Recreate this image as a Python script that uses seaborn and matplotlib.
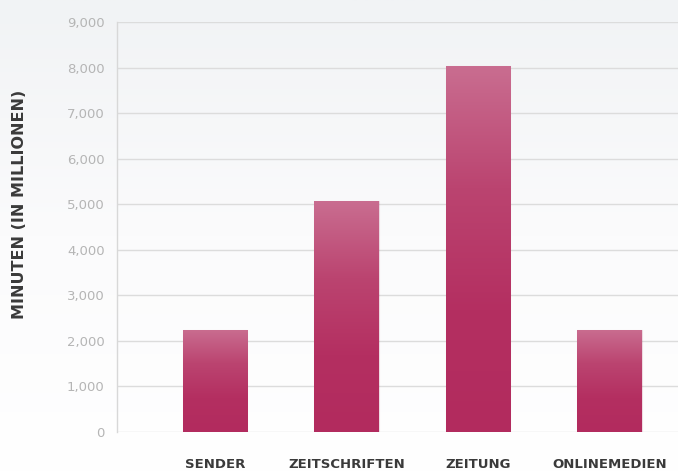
import matplotlib
matplotlib.use("Agg")
import matplotlib.pyplot as plt
import seaborn as sns
import pandas as pd
import numpy as np
from matplotlib.colors import LinearSegmentedColormap
from matplotlib.ticker import FuncFormatter

categories = ["SENDER", "ZEITSCHRIFTEN", "ZEITUNG", "ONLINEMEDIEN"]
minutes = [2250, 5060, 8030, 2250]
y_ticks = [0, 1000, 2000, 3000, 4000, 5000, 6000, 7000, 8000, 9000]

df = pd.DataFrame({"medium": categories, "minuten": minutes})

sns.set_theme(style="white")
plt.rcParams["font.family"] = ["DejaVu Sans"]

fig = plt.figure(figsize=(6.78, 4.72), dpi=100)

# soft grey-to-white page background
bg = fig.add_axes([0, 0, 1, 1], zorder=-10)
grad = np.linspace(0, 1, 256).reshape(-1, 1)
bg_cmap = LinearSegmentedColormap.from_list("bg", ["#f1f3f5", "#fbfbfc", "#ffffff"])
bg.imshow(grad, aspect="auto", cmap=bg_cmap, extent=[0, 1, 0, 1], origin="upper")
bg.axis("off")

ax = fig.add_axes([117 / 678, 40 / 472, 1 - 117 / 678, (432 - 22) / 472])
ax.set_facecolor("none")

sns.barplot(data=df, x="medium", y="minuten", color="#b42f61", width=0.49,
            ax=ax, zorder=3, linewidth=0)

# vertical gradient inside each bar
bar_cmap = LinearSegmentedColormap.from_list("bar", ["#c96d90", "#bb4470", "#b42f61", "#b22b5e"])
for p in ax.patches:
    x0, y0 = p.get_x(), p.get_y()
    w, h = p.get_width(), p.get_height()
    p.set_facecolor("none")
    im = ax.imshow(grad, aspect="auto", cmap=bar_cmap, origin="upper",
                   extent=[x0, x0 + w, y0, y0 + h], zorder=4)
    im.set_clip_path(p)
    p.set_edgecolor((0.6, 0.1, 0.3, 0.15))
    p.set_linewidth(0.8)

ax.set_xlim(-0.745, 3.52)
ax.set_ylim(0, 9000)
ax.set_yticks(y_ticks)
ax.yaxis.set_major_formatter(FuncFormatter(lambda v, _: f"{int(v):,}"))
ax.grid(axis="y", color="#dcdcdc", linewidth=1, zorder=0)
ax.set_axisbelow(True)

for s in ["top", "right", "bottom"]:
    ax.spines[s].set_visible(False)
ax.spines["left"].set_color("#d8d8d8")
ax.spines["left"].set_linewidth(1)

ax.tick_params(axis="y", length=0, pad=9, labelsize=9.5, labelcolor="#b5b5b5")
ax.tick_params(axis="x", length=0, pad=19, labelsize=9.5, labelcolor="#3a3a3a")
for t in ax.get_xticklabels():
    t.set_fontweight("bold")

ax.set_xlabel("")
ax.set_ylabel("MINUTEN (IN MILLIONEN)", fontsize=11.5, fontweight="bold",
              color="#3a3a3a")
ax.yaxis.set_label_coords(-0.160, 0.556)

fig.savefig("out.png", dpi=100)
